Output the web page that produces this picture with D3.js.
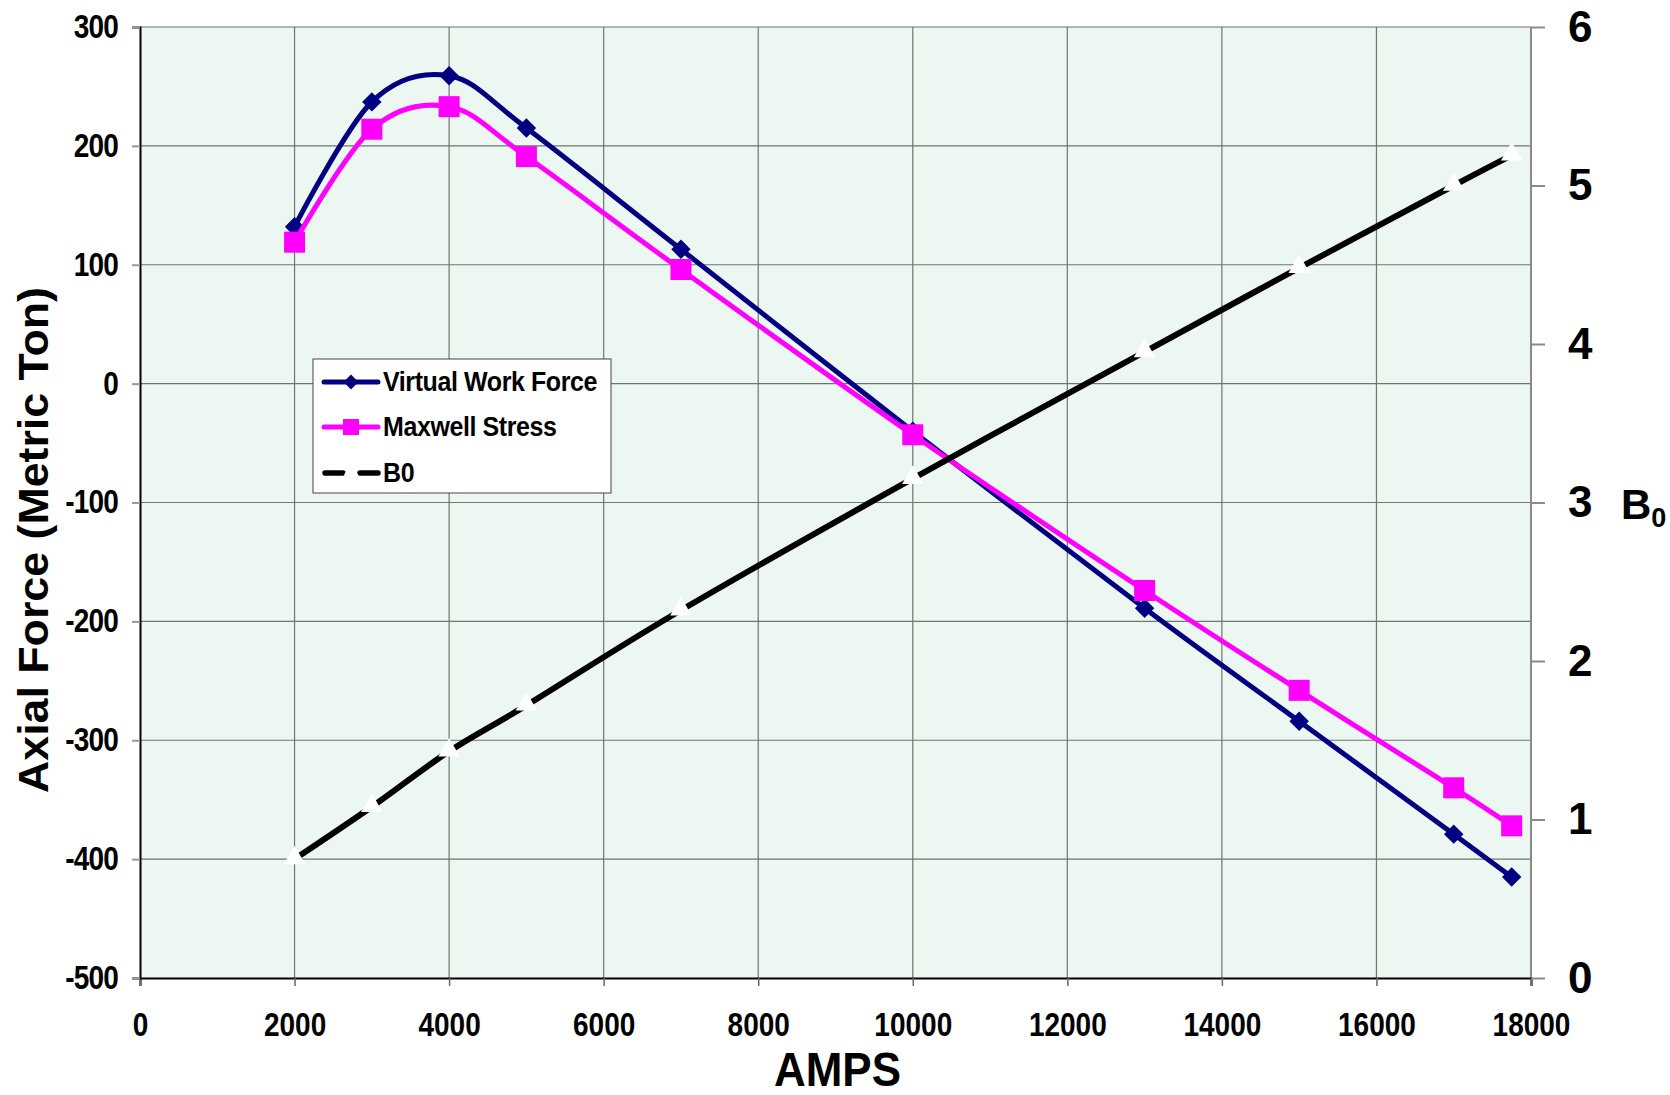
<!DOCTYPE html>
<html>
<head>
  <meta charset="utf-8">
  <title>Axial Force vs AMPS</title>
  <style>
    body { margin: 0; background: #fff; }
    svg text { font-family: "Liberation Sans", Arial, sans-serif; font-weight: bold; fill: #000; }
  </style>
</head>
<body>
  <div id="chart"></div>

  <script src="https://d3js.org/d3.v7.min.js"></script>
  <script>
    // values
    const amps = [2000, 3000, 4000, 5000, 7000, 10000, 13000, 15000, 17000, 17750];
    const virtualWork = [132, 237, 259, 215, 113, -40, -189, -284, -379, -415];
    const maxwell = [119, 214, 233, 191, 96, -43, -174, -258, -340, -372];
    const b0 = [0.75, 1.08, 1.43, 1.72, 2.32, 3.15, 3.95, 4.48, 5.0, 5.19];

    const xTicks = d3.range(0, 18001, 2000);
    const yTicks = d3.range(-500, 301, 100);
    const y2Ticks = [0, 1, 2, 3, 4, 5, 6];
    const seriesNames = ["Virtual Work Force", "Maxwell Stress", "B0"];

    const W = 1670, H = 1095;
    const plotL = 140, plotR = 1531, plotT = 27, plotB = 978;

    const svg = d3.select("#chart")
      .append("svg")
      .attr("width", W)
      .attr("height", H);

    const x = d3.scaleLinear().domain([0, 18000]).range([plotL, plotR]);
    const y = d3.scaleLinear().domain([-500, 300]).range([plotB, plotT]);
    const y2 = d3.scaleLinear().domain([0, 6]).range([plotB, plotT]);

    // plot background
    svg.append("rect")
      .attr("x", plotL).attr("y", plotT)
      .attr("width", plotR - plotL).attr("height", plotB - plotT)
      .attr("fill", "#edf7f1");

    // gridlines
    svg.append("g")
      .selectAll("line")
      .data(xTicks.slice(1))
      .join("line")
      .attr("x1", d => x(d)).attr("x2", d => x(d))
      .attr("y1", plotT).attr("y2", plotB)
      .attr("stroke", "#6f756f").attr("stroke-width", 1.2);

    svg.append("g")
      .selectAll("line")
      .data(yTicks.slice(1))
      .join("line")
      .attr("x1", plotL).attr("x2", plotR)
      .attr("y1", d => y(d)).attr("y2", d => y(d))
      .attr("stroke", "#6f756f").attr("stroke-width", 1.2);

    // right border
    svg.append("line").attr("x1", plotR).attr("x2", plotR).attr("y1", plotT).attr("y2", plotB)
      .attr("stroke", "#8a8a8a").attr("stroke-width", 2);

    // axes (labels a bit taller than wide, like the original)
    const plain = d => String(d);
    const xAxis = svg.append("g")
      .attr("transform", `translate(0,${plotB})`)
      .call(d3.axisBottom(x).tickValues(xTicks).tickSize(8).tickPadding(27).tickFormat(plain));
    xAxis.select(".domain").attr("stroke", "#000").attr("stroke-width", 2);
    xAxis.selectAll(".tick line").attr("stroke", "#666").attr("stroke-width", 1.5);
    xAxis.selectAll("text")
      .attr("font-size", 28).attr("y", 0).attr("dy", "0.71em")
      .attr("transform", "translate(0,35) scale(1,1.17)");

    const yAxis = svg.append("g")
      .attr("transform", `translate(${plotL},0)`)
      .call(d3.axisLeft(y).tickValues(yTicks).tickSize(8).tickPadding(14).tickFormat(plain));
    yAxis.select(".domain").attr("stroke", "#000").attr("stroke-width", 2);
    yAxis.selectAll(".tick line").attr("stroke", "#999").attr("stroke-width", 2);
    yAxis.selectAll("text").attr("font-size", 28).attr("letter-spacing", -0.8)
      .attr("transform", "scale(1,1.17)");

    const y2Axis = svg.append("g")
      .attr("transform", `translate(${plotR},0)`)
      .call(d3.axisRight(y2).tickValues(y2Ticks).tickSize(14).tickPadding(23).tickFormat(plain));
    y2Axis.select(".domain").remove();
    y2Axis.selectAll(".tick line").attr("stroke", "#8a8a8a").attr("stroke-width", 2);
    y2Axis.selectAll("text").attr("font-size", 44);

    // axis titles
    svg.append("text")
      .attr("transform", `translate(48,540) rotate(-90)`)
      .attr("text-anchor", "middle")
      .attr("font-size", 42)
      .attr("textLength", 506)
      .attr("lengthAdjust", "spacingAndGlyphs")
      .text("Axial Force (Metric Ton)");

    svg.append("text")
      .attr("transform", `translate(${(plotL + plotR) / 2 + 2},1086) scale(1,1.1)`)
      .attr("text-anchor", "middle")
      .attr("font-size", 44)
      .text("AMPS");

    const b0Label = svg.append("text")
      .attr("x", 1621).attr("y", y2(3) + 16)
      .attr("font-size", 42)
      .text("B");
    b0Label.append("tspan").attr("font-size", 27).attr("dy", 8).text("0");

    // series
    const curve = d3.curveCardinal.tension(0);
    const lineLeft = vals => d3.line().curve(curve)
      .x((d, i) => x(amps[i])).y(d => y(d))(vals);

    svg.append("path").attr("d", lineLeft(virtualWork))
      .attr("fill", "none").attr("stroke", "#000080").attr("stroke-width", 5);
    svg.append("g").selectAll("path")
      .data(virtualWork).join("path")
      .attr("transform", (d, i) => `translate(${x(amps[i])},${y(d)})`)
      .attr("d", d3.symbol(d3.symbolDiamond2, 240))
      .attr("fill", "#000080");

    svg.append("path").attr("d", lineLeft(maxwell))
      .attr("fill", "none").attr("stroke", "#ff00ff").attr("stroke-width", 5);
    svg.append("g").selectAll("rect")
      .data(maxwell).join("rect")
      .attr("x", (d, i) => x(amps[i]) - 10.5).attr("y", d => y(d) - 10.5)
      .attr("width", 21).attr("height", 21)
      .attr("fill", "#ff00ff");

    const lineB0 = d3.line().curve(curve)
      .x((d, i) => x(amps[i])).y(d => y2(d));
    svg.append("path").attr("d", lineB0(b0))
      .attr("fill", "none").attr("stroke", "#000").attr("stroke-width", 6);
    svg.append("g").selectAll("path")
      .data(b0).join("path")
      .attr("transform", (d, i) => `translate(${x(amps[i])},${y2(d) - 1})`)
      .attr("d", d3.symbol(d3.symbolTriangle, 200))
      .attr("fill", "#fff");

    // legend
    const lg = svg.append("g");
    lg.append("rect")
      .attr("x", 313).attr("y", 359).attr("width", 298).attr("height", 134)
      .attr("fill", "#fff").attr("stroke", "#444").attr("stroke-width", 1);
    const rowY = [382, 427, 473];
    seriesNames.forEach((name, i) => {
      const yy = rowY[i];
      if (i === 0) {
        lg.append("line").attr("x1", 324).attr("x2", 378).attr("y1", yy).attr("y2", yy)
          .attr("stroke", "#000080").attr("stroke-width", 5).attr("stroke-linecap", "round");
        lg.append("path").attr("transform", `translate(351,${yy})`)
          .attr("d", d3.symbol(d3.symbolDiamond2, 140)).attr("fill", "#000080");
      } else if (i === 1) {
        lg.append("line").attr("x1", 324).attr("x2", 378).attr("y1", yy).attr("y2", yy)
          .attr("stroke", "#ff00ff").attr("stroke-width", 5).attr("stroke-linecap", "round");
        lg.append("rect").attr("x", 343).attr("y", yy - 8).attr("width", 16).attr("height", 16)
          .attr("fill", "#ff00ff");
      } else {
        lg.append("line").attr("x1", 325).attr("x2", 378).attr("y1", yy).attr("y2", yy)
          .attr("stroke", "#000").attr("stroke-width", 5.5).attr("stroke-linecap", "round")
          .attr("stroke-dasharray", "18,17");
        lg.append("path").attr("transform", `translate(351,${yy - 2})`)
          .attr("d", d3.symbol(d3.symbolTriangle, 90)).attr("fill", "#fff");
      }
      lg.append("text").attr("transform", `translate(383,${yy + 9}) scale(1,1.1)`)
        .attr("font-size", 25).attr("letter-spacing", -0.4)
        .text(name);
    });
  </script>
</body>
</html>
